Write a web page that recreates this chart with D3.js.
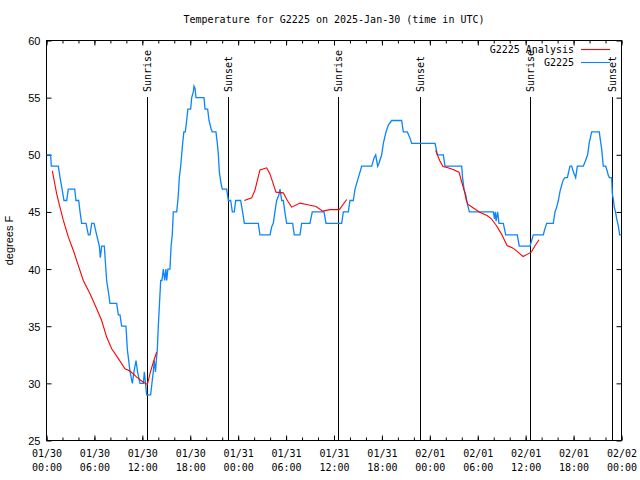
<!DOCTYPE html>
<html><head><meta charset="utf-8">
<script src="https://cdn.jsdelivr.net/npm/d3@7"></script>
<style>
body{margin:0;background:#fff;}
svg{display:block;}
.mono{font-family:"DejaVu Sans Mono","Liberation Mono",monospace;font-size:10px;}
.sans{font-family:"Liberation Sans",Arial,sans-serif;font-size:11px;}
</style></head>
<body>
<script>
// ---------- DATA ----------
const title = "Temperature for G2225 on 2025-Jan-30 (time in UTC)";
const yLabel = "degrees F";
const startDate = "2025-01-30T00:00:00Z";
const spanHours = 72;
const yTicks = [25, 30, 35, 40, 45, 50, 55, 60];

// Observed series (hours since start, degrees F)
const obsHours = [0.0,0.52,0.6,1.48,1.7,1.95,2.19,2.53,2.73,3.53,3.69,4.03,4.2,4.4,4.95,5.24,5.45,5.66,5.95,6.28,6.62,6.74,6.91,7.24,7.53,7.75,7.95,8.79,8.99,9.2,9.41,9.95,10.12,10.29,10.46,10.75,10.95,11.21,11.4,11.71,12.13,12.25,12.4,12.54,13.04,13.2,13.37,13.5,13.65,13.75,13.88,14.0,14.15,14.3,14.45,14.63,14.8,14.95,15.05,15.2,15.46,15.6,15.75,15.88,16.3,16.45,16.55,16.63,16.8,16.93,17.05,17.2,17.38,17.55,17.7,18.05,18.18,18.38,18.47,18.6,18.72,19.72,19.85,20.18,20.35,20.6,20.76,21.22,21.39,21.52,21.64,21.85,22.02,22.56,22.77,23.06,23.27,23.52,23.69,24.31,24.6,24.77,26.52,26.73,27.99,28.2,28.4,28.6,28.82,29.1,29.24,29.35,29.45,29.65,29.85,30.07,30.82,31.03,31.74,31.95,32.99,33.28,34.75,35.0,36.96,37.17,37.8,38.0,38.42,38.63,39.05,39.47,40.72,41.0,41.22,41.47,41.6,41.97,42.18,42.51,42.8,43.22,44.47,44.68,45.18,45.5,45.73,48.65,48.8,48.94,49.69,49.9,51.99,52.1,52.28,52.5,52.7,52.95,55.95,56.1,56.2,56.3,56.49,56.66,57.2,57.5,58.95,59.2,60.54,60.75,60.96,62.21,62.4,62.63,63.46,63.67,63.88,64.09,64.3,64.5,64.7,64.93,65.22,65.55,65.76,65.98,66.26,66.47,67.22,67.5,67.76,67.95,68.26,69.22,69.35,69.52,69.65,69.72,70.02,70.2,70.35,70.48,70.77,70.85,71.0,71.1,71.25,71.4,71.6,71.77,72.0];
const obsTemps = [50,50,49,49,48,47,46,46,47,47,46,46,45,44,44,43,43,44,44,43,42,41,42,42,39,38,37,37,36,36,35,35,33,32,31,30,31,32,31,30,30,31,30,29,29,30,31,32,31,32,33,35,37,39,39,40,39,40,39,40,40,42,43,45,45,46,47,48,49,50,51,52,52,53,54,54,55,55.5,56,55.8,55,55,54,54,53,52.3,52,52,51,50,48.5,47.5,47,47,46,46,45,45,46,46,44.8,44,44,43,43,43.7,44,45,46,46.5,47,46.5,46,46,45,44,44,43,43,44,44,45,45,44,44,45,45,46,46,47,48,49,49,49.7,50,49,49.2,50,51,52,52.6,53,53,52,52,51.5,51,51,50.5,50,50,49,49,48,47,46.5,45.7,45,45,44.4,45,44.2,45,44,44,43,43,42,42,42.5,43,43,43.5,44,44,45,45.4,46,46.8,47.3,47.8,48,48,49,49,48.5,48,49,49,49.5,50,51,52,52,51.3,50.5,49.5,49,49,48.6,48.2,48,48,46.6,46,45.4,45,44.4,43.8,43,43];

// Analysis series, three runs (hours since start, degrees F)
const anaHours1 = [0.73,1.27,1.69,2.11,2.74,3.36,3.99,4.61,5.45,6.28,6.91,7.53,8.16,9.0,9.83,10.46,11.3,12.13,12.63,12.96,13.38,13.8];
const anaTemps1 = [48.6,46.6,45.4,44.26,42.8,41.63,40.3,39.0,37.84,36.53,35.5,34.05,33.03,32.16,31.28,31.08,30.55,30.1,29.9,30.85,31.87,32.74];
const anaHours2 = [24.77,25.69,26.1,26.73,27.57,27.98,28.74,29.65,30.16,30.7,31.74,32.58,33.75,34.58,35.5,36.67,37.59];
const anaTemps2 = [46.0,46.23,46.9,48.68,48.86,48.33,46.73,46.67,46.0,45.42,45.77,45.65,45.48,45.07,45.2,45.2,46.09];
const anaHours3 = [48.73,49.23,49.65,50.27,50.9,51.65,51.94,52.36,52.57,52.78,53.4,54.24,55.16,55.7,56.33,56.96,57.67,58.42,59.04,59.67,60.3,60.71,61.13,61.67];
const anaTemps3 = [50.37,49.5,48.97,48.86,48.71,48.48,47.75,46.73,46.0,45.65,45.36,44.98,44.69,44.4,43.81,43.08,42.06,41.83,41.48,41.1,41.33,41.48,42.0,42.56];

// Sun events (hours since start)
const sunLabels = ["Sunrise","Sunset","Sunrise","Sunset","Sunrise","Sunset"];
const sunHours = [12.62, 22.78, 36.56, 46.83, 60.58, 70.85];

const legendNames = ["G2225 Analysis", "G2225"];
const colors = {analysis: "#ff0000", obs: "#0a84ff"};

// ---------- CHART ----------
const W = 640, H = 480;
const L = 46.5, R = 621.5, T = 40.5, B = 440.5;
const t0 = new Date(startDate).getTime();
const toDate = h => new Date(t0 + h * 3600e3);

const svg = d3.select("body").append("svg").attr("width", W).attr("height", H);

const x = d3.scaleUtc().domain([toDate(0), toDate(spanHours)]).range([L, R]);
const y = d3.scaleLinear().domain([25, 60]).range([B, T]);

const majorTicks = d3.utcHour.every(6).range(toDate(0), toDate(spanHours + 0.01));
const minorTicks = d3.utcHour.every(2).range(toDate(0), toDate(spanHours + 0.01));

function styleAxis(g){
  g.select(".domain").remove();
  g.selectAll("line").attr("stroke", "#000");
}
svg.append("g").attr("transform", `translate(0,${B})`)
  .call(d3.axisBottom(x).tickValues(minorTicks).tickSizeInner(-3).tickSizeOuter(0).tickFormat(""))
  .call(styleAxis);
svg.append("g").attr("transform", `translate(0,${T})`)
  .call(d3.axisTop(x).tickValues(minorTicks).tickSizeInner(-3).tickSizeOuter(0).tickFormat(""))
  .call(styleAxis);
svg.append("g").attr("transform", `translate(0,${T})`)
  .call(d3.axisTop(x).tickValues(majorTicks).tickSizeInner(-5).tickSizeOuter(0).tickFormat(""))
  .call(styleAxis);

const fmtD = d3.utcFormat("%m/%d"), fmtT = d3.utcFormat("%H:%M");
const xb = svg.append("g").attr("transform", `translate(0,${B})`)
  .call(d3.axisBottom(x).tickValues(majorTicks).tickSizeInner(-5).tickSizeOuter(0).tickFormat(""))
  .call(styleAxis);
xb.selectAll(".tick text").each(function(d){
  const t = d3.select(this).attr("y", null).attr("dy", null).attr("class","mono").attr("fill","#000");
  t.append("tspan").attr("x", 0).attr("y", 16).text(fmtD(d));
  t.append("tspan").attr("x", 0).attr("y", 30).text(fmtT(d));
});
xb.attr("font-family", null).attr("font-size", null);

const yl = svg.append("g").attr("transform", `translate(${L},0)`)
  .call(d3.axisLeft(y).tickValues(yTicks).tickSizeInner(-5).tickSizeOuter(0).tickPadding(6))
  .call(styleAxis);
yl.attr("font-family", null).attr("font-size", null);
yl.selectAll("text").attr("class", "sans").attr("fill", "#000").attr("dy", "0.36em");
svg.append("g").attr("transform", `translate(${R},0)`)
  .call(d3.axisRight(y).tickValues(yTicks).tickSizeInner(-5).tickSizeOuter(0).tickFormat(""))
  .call(styleAxis);

// frame
svg.append("rect").attr("x", L).attr("y", T).attr("width", R - L).attr("height", B - T)
  .attr("fill", "none").attr("stroke", "#000").attr("stroke-width", 1);

// title & y label
svg.append("text").attr("class", "mono").attr("x", (L + R) / 2).attr("y", 23)
  .attr("text-anchor", "middle").text(title);
svg.append("text").attr("class", "sans")
  .attr("transform", `translate(13,${(T + B) / 2}) rotate(-90)`)
  .attr("text-anchor", "middle").text(yLabel);

// sun lines
sunHours.forEach((h, i) => {
  const xp = Math.round(x(toDate(h))) + 0.5;
  svg.append("line").attr("x1", xp).attr("x2", xp).attr("y1", 97).attr("y2", B)
    .attr("stroke", "#000").attr("stroke-width", 1);
  svg.append("text").attr("class", "mono")
    .attr("transform", `translate(${xp + 3.5},92) rotate(-90)`)
    .attr("text-anchor", "start").text(sunLabels[i]);
});

// lines
const line = d3.line().x(d => x(toDate(d[0]))).y(d => y(d[1]));
const zip = (a, b) => a.map((v, i) => [v, b[i]]);

svg.append("path").datum(zip(obsHours, obsTemps)).attr("d", line)
  .attr("fill", "none").attr("stroke", colors.obs).attr("stroke-width", 1.3);
[[anaHours1, anaTemps1], [anaHours2, anaTemps2], [anaHours3, anaTemps3]].forEach(([hs, ts]) => {
  svg.append("path").datum(zip(hs, ts)).attr("d", line)
    .attr("fill", "none").attr("stroke", colors.analysis).attr("stroke-width", 1.1);
});

// legend
const legColors = [colors.analysis, colors.obs];
legendNames.forEach((n, i) => {
  const ly = 49.5 + i * 13;
  svg.append("text").attr("class", "mono").attr("x", 574).attr("y", ly + 3.5)
    .attr("text-anchor", "end").text(n);
  svg.append("line").attr("x1", 581).attr("x2", 610).attr("y1", ly).attr("y2", ly)
    .attr("stroke", legColors[i]).attr("stroke-width", 1.1);
});
</script>
</body></html>
